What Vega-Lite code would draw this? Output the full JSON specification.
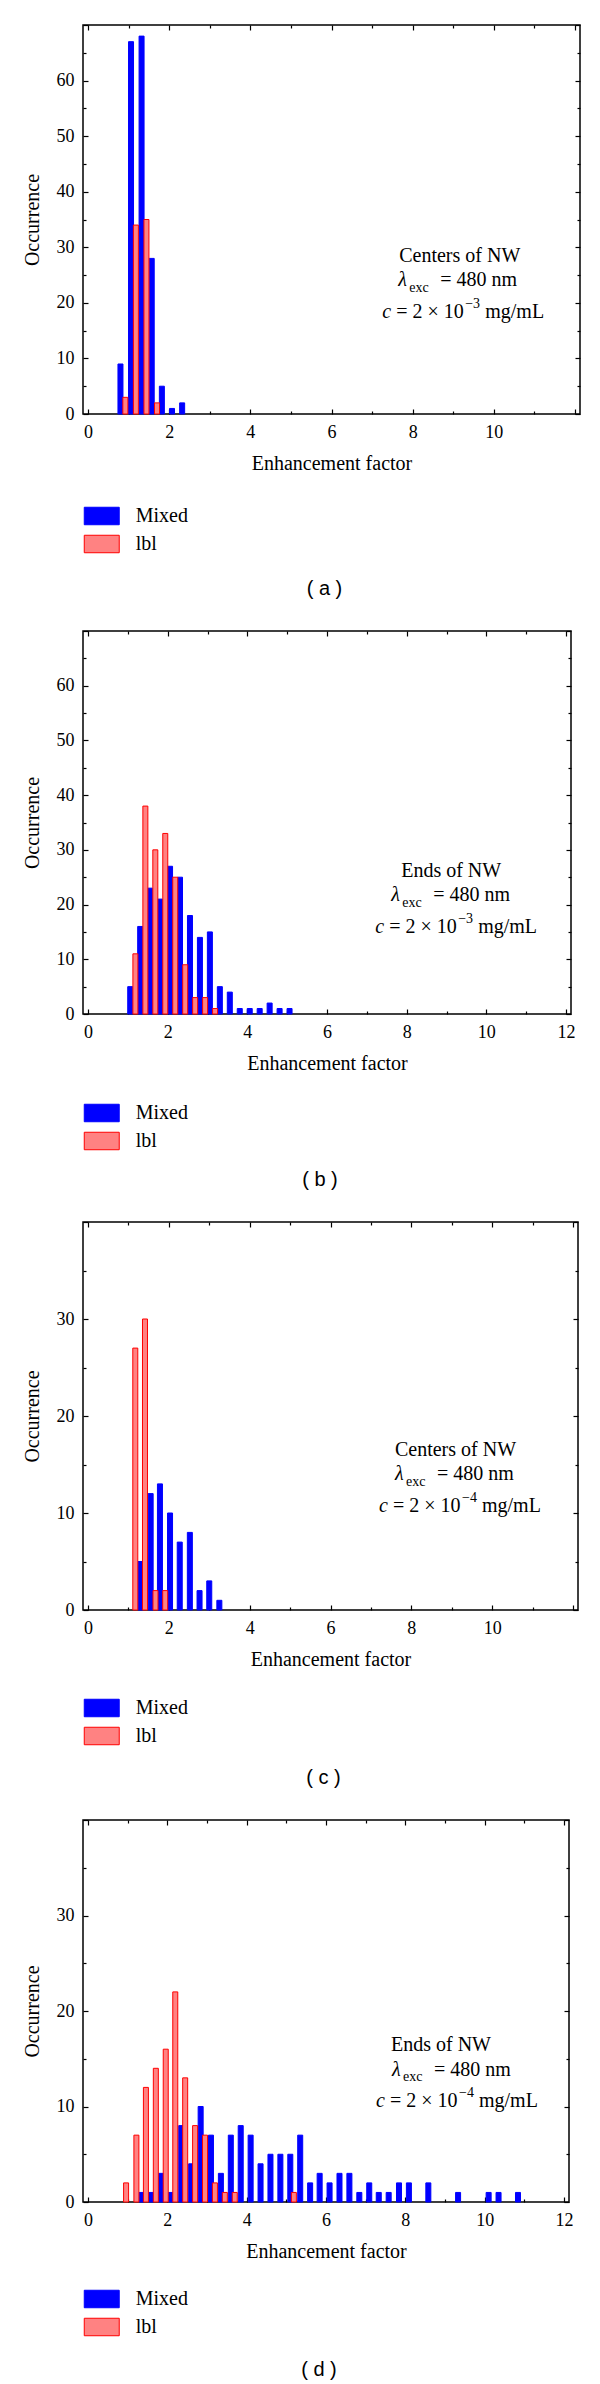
{
  "$schema": "https://vega.github.io/schema/vega-lite/v6.json",
  "padding": {"left": 21, "top": 15, "right": 5, "bottom": 0},
  "spacing": 21,
  "resolve": {"scale": {"fill": "independent", "stroke": "independent"}, "legend": {"fill": "independent", "stroke": "independent"}},
  "config": {
    "font": "Liberation Serif",
    "view": {"stroke": "black", "strokeWidth": 1.5},
    "axis": {"labelFont": "Liberation Serif", "labelFontSize": 18, "labelColor": "black", "titleFont": "Liberation Serif", "titleFontSize": 20, "titleFontWeight": "normal", "titleColor": "black", "domain": false, "grid": false, "tickColor": "black", "tickWidth": 1.2, "labelOverlap": false, "labelFlush": false},
    "legend": {"labelFont": "Liberation Serif", "labelFontSize": 20, "labelColor": "black", "padding": 0},
    "title": {"font": "Liberation Sans", "fontSize": 20, "fontWeight": "normal", "color": "black"},
    "text": {"font": "Liberation Serif", "fontSize": 20, "fill": "black", "fontWeight": "normal", "align": "left", "baseline": "alphabetic"}
  },
  "vconcat": [
    {
      "width": 497, "height": 389,
      "title": {"text": "( a )", "orient": "bottom", "anchor": "middle", "offset": 24, "dx": -7},
      "resolve": {"scale": {"x": "shared", "y": "shared"}, "axis": {"x": "independent", "y": "independent"}},
      "layer": [
        {
          "data": {"values": [
            {"series": "Mixed", "factor": 0.80, "count": 9},
            {"series": "Mixed", "factor": 1.06, "count": 67},
            {"series": "Mixed", "factor": 1.32, "count": 68},
            {"series": "Mixed", "factor": 1.57, "count": 28},
            {"series": "Mixed", "factor": 1.82, "count": 5},
            {"series": "Mixed", "factor": 2.07, "count": 1},
            {"series": "Mixed", "factor": 2.32, "count": 2},
            {"series": "lbl", "factor": 0.92, "count": 3},
            {"series": "lbl", "factor": 1.18, "count": 34},
            {"series": "lbl", "factor": 1.44, "count": 35},
            {"series": "lbl", "factor": 1.70, "count": 2}
          ]},
          "mark": {"type": "bar", "size": 5, "strokeWidth": 1},
          "encoding": {
            "x": {"field": "factor", "type": "quantitative", "scale": {"domain": [0, 12], "nice": false, "zero": false},
              "axis": {"orient": "bottom", "values": [0,1,2,3,4,5,6,7,8,9,10,11,12], "labelExpr": "datum.value % 2 === 0 && datum.value < 12 ? datum.label : ''", "tickSize": {"condition": {"test": "datum.value % 2 === 0", "value": -5}, "value": -3}, "labelPadding": 14, "title": "Enhancement factor", "titlePadding": 10}},
            "y": {"field": "count", "type": "quantitative", "stack": null, "scale": {"domain": [0, 70], "nice": false},
              "axis": {"orient": "left", "values": [0,5,10,15,20,25,30,35,40,45,50,55,60,65,70], "labelExpr": "datum.value % 10 === 0 && datum.value < 70 ? datum.label : ''", "tickSize": {"condition": {"test": "datum.value % 10 === 0", "value": -5}, "value": -3}, "labelPadding": 14, "title": "Occurrence", "titlePadding": 14}},
            "fill": {"field": "series", "type": "nominal", "scale": {"domain": ["Mixed", "lbl"], "range": ["#0000ff", "#ff8282"]},
              "legend": {"orient": "none", "legendX": 8.75, "legendY": 481, "title": null, "direction": "vertical", "symbolType": "M-2,-1H2V1H-2Z", "symbolSize": 306, "symbolStrokeWidth": 1, "rowPadding": 6, "labelOffset": 24}},
            "stroke": {"field": "series", "type": "nominal", "scale": {"domain": ["Mixed", "lbl"], "range": ["#0000ff", "#ff0000"]},
              "legend": {"orient": "none", "legendX": 8.75, "legendY": 481, "title": null, "direction": "vertical", "symbolType": "M-2,-1H2V1H-2Z", "symbolSize": 306, "symbolStrokeWidth": 1, "rowPadding": 6, "labelOffset": 24}}
          }
        },
        {
          "data": {"values": [{}]},
          "mark": {"type": "text", "text": "Centers of NW", "align": "center", "dx": 77.5, "dy": 0},
          "encoding": {
            "x": {"datum": 7.25, "type": "quantitative", "axis": {"orient": "top", "values": [0,1,2,3,4,5,6,7,8,9,10,11,12], "labels": false, "tickSize": {"condition": {"test": "datum.value % 2 === 0", "value": -5}, "value": -3}, "title": null}},
            "y": {"datum": 27.4, "type": "quantitative", "axis": {"orient": "right", "values": [0,5,10,15,20,25,30,35,40,45,50,55,60,65,70], "labels": false, "tickSize": {"condition": {"test": "datum.value % 10 === 0", "value": -5}, "value": -3}, "title": null}}
          }
        },
        {"data": {"values": [{}]}, "mark": {"type": "text", "text": "λ", "fontStyle": "italic", "dx": 16, "dy": 24.5}, "encoding": {"x": {"datum": 7.25, "type": "quantitative", "axis": null}, "y": {"datum": 27.4, "type": "quantitative", "axis": null}}},
        {"data": {"values": [{}]}, "mark": {"type": "text", "text": "exc", "fontSize": 14, "dx": 27, "dy": 30}, "encoding": {"x": {"datum": 7.25, "type": "quantitative", "axis": null}, "y": {"datum": 27.4, "type": "quantitative", "axis": null}}},
        {"data": {"values": [{}]}, "mark": {"type": "text", "text": "= 480 nm", "dx": 58, "dy": 24.5}, "encoding": {"x": {"datum": 7.25, "type": "quantitative", "axis": null}, "y": {"datum": 27.4, "type": "quantitative", "axis": null}}},
        {"data": {"values": [{}]}, "mark": {"type": "text", "text": "c", "fontStyle": "italic", "dx": 0, "dy": 56}, "encoding": {"x": {"datum": 7.25, "type": "quantitative", "axis": null}, "y": {"datum": 27.4, "type": "quantitative", "axis": null}}},
        {"data": {"values": [{}]}, "mark": {"type": "text", "text": "= 2 × 10", "dx": 14, "dy": 56}, "encoding": {"x": {"datum": 7.25, "type": "quantitative", "axis": null}, "y": {"datum": 27.4, "type": "quantitative", "axis": null}}},
        {"data": {"values": [{}]}, "mark": {"type": "text", "text": "−3", "fontSize": 14, "dx": 83, "dy": 46}, "encoding": {"x": {"datum": 7.25, "type": "quantitative", "axis": null}, "y": {"datum": 27.4, "type": "quantitative", "axis": null}}},
        {"data": {"values": [{}]}, "mark": {"type": "text", "text": "mg/mL", "dx": 103, "dy": 56}, "encoding": {"x": {"datum": 7.25, "type": "quantitative", "axis": null}, "y": {"datum": 27.4, "type": "quantitative", "axis": null}}}
      ]
    },
    {
      "width": 488, "height": 383,
      "title": {"text": "( b )", "orient": "bottom", "anchor": "middle", "offset": 18, "dx": -7},
      "resolve": {"scale": {"x": "shared", "y": "shared"}, "axis": {"x": "independent", "y": "independent"}},
      "layer": [
        {
          "data": {"values": [
            {"series": "Mixed", "factor": 1.06, "count": 5},
            {"series": "Mixed", "factor": 1.31, "count": 16},
            {"series": "Mixed", "factor": 1.56, "count": 23},
            {"series": "Mixed", "factor": 1.81, "count": 21},
            {"series": "Mixed", "factor": 2.06, "count": 27},
            {"series": "Mixed", "factor": 2.31, "count": 25},
            {"series": "Mixed", "factor": 2.56, "count": 18},
            {"series": "Mixed", "factor": 2.81, "count": 14},
            {"series": "Mixed", "factor": 3.06, "count": 15},
            {"series": "Mixed", "factor": 3.31, "count": 5},
            {"series": "Mixed", "factor": 3.56, "count": 4},
            {"series": "Mixed", "factor": 3.81, "count": 1},
            {"series": "Mixed", "factor": 4.06, "count": 1},
            {"series": "Mixed", "factor": 4.31, "count": 1},
            {"series": "Mixed", "factor": 4.56, "count": 2},
            {"series": "Mixed", "factor": 4.81, "count": 1},
            {"series": "Mixed", "factor": 5.06, "count": 1},
            {"series": "lbl", "factor": 1.19, "count": 11},
            {"series": "lbl", "factor": 1.44, "count": 38},
            {"series": "lbl", "factor": 1.69, "count": 30},
            {"series": "lbl", "factor": 1.94, "count": 33},
            {"series": "lbl", "factor": 2.19, "count": 25},
            {"series": "lbl", "factor": 2.44, "count": 9},
            {"series": "lbl", "factor": 2.69, "count": 3},
            {"series": "lbl", "factor": 2.94, "count": 3},
            {"series": "lbl", "factor": 3.19, "count": 1}
          ]},
          "mark": {"type": "bar", "size": 5, "strokeWidth": 1},
          "encoding": {
            "x": {"field": "factor", "type": "quantitative", "scale": {"domain": [0, 12], "nice": false, "zero": false},
              "axis": {"orient": "bottom", "values": [0,1,2,3,4,5,6,7,8,9,10,11,12], "labelExpr": "datum.value % 2 === 0 ? datum.label : ''", "tickSize": {"condition": {"test": "datum.value % 2 === 0", "value": -5}, "value": -3}, "labelPadding": 14, "title": "Enhancement factor", "titlePadding": 10}},
            "y": {"field": "count", "type": "quantitative", "stack": null, "scale": {"domain": [0, 70], "nice": false},
              "axis": {"orient": "left", "values": [0,5,10,15,20,25,30,35,40,45,50,55,60,65,70], "labelExpr": "datum.value % 10 === 0 && datum.value < 70 ? datum.label : ''", "tickSize": {"condition": {"test": "datum.value % 10 === 0", "value": -5}, "value": -3}, "labelPadding": 14, "title": "Occurrence", "titlePadding": 14}},
            "fill": {"field": "series", "type": "nominal", "scale": {"domain": ["Mixed", "lbl"], "range": ["#0000ff", "#ff8282"]},
              "legend": {"orient": "none", "legendX": 8.75, "legendY": 472, "title": null, "direction": "vertical", "symbolType": "M-2,-1H2V1H-2Z", "symbolSize": 306, "symbolStrokeWidth": 1, "rowPadding": 6, "labelOffset": 24}},
            "stroke": {"field": "series", "type": "nominal", "scale": {"domain": ["Mixed", "lbl"], "range": ["#0000ff", "#ff0000"]},
              "legend": {"orient": "none", "legendX": 8.75, "legendY": 472, "title": null, "direction": "vertical", "symbolType": "M-2,-1H2V1H-2Z", "symbolSize": 306, "symbolStrokeWidth": 1, "rowPadding": 6, "labelOffset": 24}}
          }
        },
        {
          "data": {"values": [{}]},
          "mark": {"type": "text", "text": "Ends of NW", "align": "center", "dx": 76, "dy": 0},
          "encoding": {
            "x": {"datum": 7.21, "type": "quantitative", "axis": {"orient": "top", "values": [0,1,2,3,4,5,6,7,8,9,10,11,12], "labels": false, "tickSize": {"condition": {"test": "datum.value % 2 === 0", "value": -5}, "value": -3}, "title": null}},
            "y": {"datum": 25.1, "type": "quantitative", "axis": {"orient": "right", "values": [0,5,10,15,20,25,30,35,40,45,50,55,60,65,70], "labels": false, "tickSize": {"condition": {"test": "datum.value % 10 === 0", "value": -5}, "value": -3}, "title": null}}
          }
        },
        {"data": {"values": [{}]}, "mark": {"type": "text", "text": "λ", "fontStyle": "italic", "dx": 16, "dy": 24.5}, "encoding": {"x": {"datum": 7.21, "type": "quantitative", "axis": null}, "y": {"datum": 25.1, "type": "quantitative", "axis": null}}},
        {"data": {"values": [{}]}, "mark": {"type": "text", "text": "exc", "fontSize": 14, "dx": 27, "dy": 30}, "encoding": {"x": {"datum": 7.21, "type": "quantitative", "axis": null}, "y": {"datum": 25.1, "type": "quantitative", "axis": null}}},
        {"data": {"values": [{}]}, "mark": {"type": "text", "text": "= 480 nm", "dx": 58, "dy": 24.5}, "encoding": {"x": {"datum": 7.21, "type": "quantitative", "axis": null}, "y": {"datum": 25.1, "type": "quantitative", "axis": null}}},
        {"data": {"values": [{}]}, "mark": {"type": "text", "text": "c", "fontStyle": "italic", "dx": 0, "dy": 56}, "encoding": {"x": {"datum": 7.21, "type": "quantitative", "axis": null}, "y": {"datum": 25.1, "type": "quantitative", "axis": null}}},
        {"data": {"values": [{}]}, "mark": {"type": "text", "text": "= 2 × 10", "dx": 14, "dy": 56}, "encoding": {"x": {"datum": 7.21, "type": "quantitative", "axis": null}, "y": {"datum": 25.1, "type": "quantitative", "axis": null}}},
        {"data": {"values": [{}]}, "mark": {"type": "text", "text": "−3", "fontSize": 14, "dx": 83, "dy": 46}, "encoding": {"x": {"datum": 7.21, "type": "quantitative", "axis": null}, "y": {"datum": 25.1, "type": "quantitative", "axis": null}}},
        {"data": {"values": [{}]}, "mark": {"type": "text", "text": "mg/mL", "dx": 103, "dy": 56}, "encoding": {"x": {"datum": 7.21, "type": "quantitative", "axis": null}, "y": {"datum": 25.1, "type": "quantitative", "axis": null}}}
      ]
    },
    {
      "width": 495, "height": 388,
      "title": {"text": "( c )", "orient": "bottom", "anchor": "middle", "offset": 21, "dx": -7},
      "resolve": {"scale": {"x": "shared", "y": "shared"}, "axis": {"x": "independent", "y": "independent"}},
      "layer": [
        {
          "data": {"values": [
            {"series": "Mixed", "factor": 1.30, "count": 5},
            {"series": "Mixed", "factor": 1.55, "count": 12},
            {"series": "Mixed", "factor": 1.78, "count": 13},
            {"series": "Mixed", "factor": 2.03, "count": 10},
            {"series": "Mixed", "factor": 2.27, "count": 7},
            {"series": "Mixed", "factor": 2.52, "count": 8},
            {"series": "Mixed", "factor": 2.76, "count": 2},
            {"series": "Mixed", "factor": 3.00, "count": 3},
            {"series": "Mixed", "factor": 3.25, "count": 1},
            {"series": "lbl", "factor": 1.17, "count": 27},
            {"series": "lbl", "factor": 1.41, "count": 30},
            {"series": "lbl", "factor": 1.67, "count": 2},
            {"series": "lbl", "factor": 1.91, "count": 2}
          ]},
          "mark": {"type": "bar", "size": 5, "strokeWidth": 1},
          "encoding": {
            "x": {"field": "factor", "type": "quantitative", "scale": {"domain": [0, 12], "nice": false, "zero": false},
              "axis": {"orient": "bottom", "values": [0,1,2,3,4,5,6,7,8,9,10,11,12], "labelExpr": "datum.value % 2 === 0 && datum.value < 12 ? datum.label : ''", "tickSize": {"condition": {"test": "datum.value % 2 === 0", "value": -5}, "value": -3}, "labelPadding": 14, "title": "Enhancement factor", "titlePadding": 10}},
            "y": {"field": "count", "type": "quantitative", "stack": null, "scale": {"domain": [0, 40], "nice": false},
              "axis": {"orient": "left", "values": [0,5,10,15,20,25,30,35,40], "labelExpr": "datum.value % 10 === 0 && datum.value < 40 ? datum.label : ''", "tickSize": {"condition": {"test": "datum.value % 10 === 0", "value": -5}, "value": -3}, "labelPadding": 14, "title": "Occurrence", "titlePadding": 14}},
            "fill": {"field": "series", "type": "nominal", "scale": {"domain": ["Mixed", "lbl"], "range": ["#0000ff", "#ff8282"]},
              "legend": {"orient": "none", "legendX": 8.75, "legendY": 476, "title": null, "direction": "vertical", "symbolType": "M-2,-1H2V1H-2Z", "symbolSize": 306, "symbolStrokeWidth": 1, "rowPadding": 6, "labelOffset": 24}},
            "stroke": {"field": "series", "type": "nominal", "scale": {"domain": ["Mixed", "lbl"], "range": ["#0000ff", "#ff0000"]},
              "legend": {"orient": "none", "legendX": 8.75, "legendY": 476, "title": null, "direction": "vertical", "symbolType": "M-2,-1H2V1H-2Z", "symbolSize": 306, "symbolStrokeWidth": 1, "rowPadding": 6, "labelOffset": 24}}
          }
        },
        {
          "data": {"values": [{}]},
          "mark": {"type": "text", "text": "Centers of NW", "align": "center", "dx": 76.5, "dy": 0},
          "encoding": {
            "x": {"datum": 7.2, "type": "quantitative", "axis": {"orient": "top", "values": [0,1,2,3,4,5,6,7,8,9,10,11,12], "labels": false, "tickSize": {"condition": {"test": "datum.value % 2 === 0", "value": -5}, "value": -3}, "title": null}},
            "y": {"datum": 15.9, "type": "quantitative", "axis": {"orient": "right", "values": [0,5,10,15,20,25,30,35,40], "labels": false, "tickSize": {"condition": {"test": "datum.value % 10 === 0", "value": -5}, "value": -3}, "title": null}}
          }
        },
        {"data": {"values": [{}]}, "mark": {"type": "text", "text": "λ", "fontStyle": "italic", "dx": 16, "dy": 24.5}, "encoding": {"x": {"datum": 7.2, "type": "quantitative", "axis": null}, "y": {"datum": 15.9, "type": "quantitative", "axis": null}}},
        {"data": {"values": [{}]}, "mark": {"type": "text", "text": "exc", "fontSize": 14, "dx": 27, "dy": 30}, "encoding": {"x": {"datum": 7.2, "type": "quantitative", "axis": null}, "y": {"datum": 15.9, "type": "quantitative", "axis": null}}},
        {"data": {"values": [{}]}, "mark": {"type": "text", "text": "= 480 nm", "dx": 58, "dy": 24.5}, "encoding": {"x": {"datum": 7.2, "type": "quantitative", "axis": null}, "y": {"datum": 15.9, "type": "quantitative", "axis": null}}},
        {"data": {"values": [{}]}, "mark": {"type": "text", "text": "c", "fontStyle": "italic", "dx": 0, "dy": 56}, "encoding": {"x": {"datum": 7.2, "type": "quantitative", "axis": null}, "y": {"datum": 15.9, "type": "quantitative", "axis": null}}},
        {"data": {"values": [{}]}, "mark": {"type": "text", "text": "= 2 × 10", "dx": 14, "dy": 56}, "encoding": {"x": {"datum": 7.2, "type": "quantitative", "axis": null}, "y": {"datum": 15.9, "type": "quantitative", "axis": null}}},
        {"data": {"values": [{}]}, "mark": {"type": "text", "text": "−4", "fontSize": 14, "dx": 83, "dy": 46}, "encoding": {"x": {"datum": 7.2, "type": "quantitative", "axis": null}, "y": {"datum": 15.9, "type": "quantitative", "axis": null}}},
        {"data": {"values": [{}]}, "mark": {"type": "text", "text": "mg/mL", "dx": 103, "dy": 56}, "encoding": {"x": {"datum": 7.2, "type": "quantitative", "axis": null}, "y": {"datum": 15.9, "type": "quantitative", "axis": null}}}
      ]
    },
    {
      "width": 486, "height": 382,
      "title": {"text": "( d )", "orient": "bottom", "anchor": "middle", "offset": 22, "dx": -7},
      "resolve": {"scale": {"x": "shared", "y": "shared"}, "axis": {"x": "independent", "y": "independent"}},
      "layer": [
        {
          "data": {"values": [
            {"series": "Mixed", "factor": 1.35, "count": 1},
            {"series": "Mixed", "factor": 1.59, "count": 1},
            {"series": "Mixed", "factor": 1.84, "count": 3},
            {"series": "Mixed", "factor": 2.09, "count": 1},
            {"series": "Mixed", "factor": 2.35, "count": 8},
            {"series": "Mixed", "factor": 2.60, "count": 4},
            {"series": "Mixed", "factor": 2.84, "count": 10},
            {"series": "Mixed", "factor": 3.10, "count": 7},
            {"series": "Mixed", "factor": 3.35, "count": 3},
            {"series": "Mixed", "factor": 3.60, "count": 7},
            {"series": "Mixed", "factor": 3.85, "count": 8},
            {"series": "Mixed", "factor": 4.10, "count": 7},
            {"series": "Mixed", "factor": 4.35, "count": 4},
            {"series": "Mixed", "factor": 4.60, "count": 5},
            {"series": "Mixed", "factor": 4.85, "count": 5},
            {"series": "Mixed", "factor": 5.10, "count": 5},
            {"series": "Mixed", "factor": 5.35, "count": 7},
            {"series": "Mixed", "factor": 5.60, "count": 2},
            {"series": "Mixed", "factor": 5.84, "count": 3},
            {"series": "Mixed", "factor": 6.09, "count": 2},
            {"series": "Mixed", "factor": 6.34, "count": 3},
            {"series": "Mixed", "factor": 6.59, "count": 3},
            {"series": "Mixed", "factor": 6.84, "count": 1},
            {"series": "Mixed", "factor": 7.09, "count": 2},
            {"series": "Mixed", "factor": 7.33, "count": 1},
            {"series": "Mixed", "factor": 7.58, "count": 1},
            {"series": "Mixed", "factor": 7.84, "count": 2},
            {"series": "Mixed", "factor": 8.09, "count": 2},
            {"series": "Mixed", "factor": 8.58, "count": 2},
            {"series": "Mixed", "factor": 9.33, "count": 1},
            {"series": "Mixed", "factor": 10.10, "count": 1},
            {"series": "Mixed", "factor": 10.35, "count": 1},
            {"series": "Mixed", "factor": 10.84, "count": 1},
            {"series": "lbl", "factor": 0.96, "count": 2},
            {"series": "lbl", "factor": 1.22, "count": 7},
            {"series": "lbl", "factor": 1.46, "count": 12},
            {"series": "lbl", "factor": 1.71, "count": 14},
            {"series": "lbl", "factor": 1.96, "count": 16},
            {"series": "lbl", "factor": 2.20, "count": 22},
            {"series": "lbl", "factor": 2.45, "count": 13},
            {"series": "lbl", "factor": 2.70, "count": 8},
            {"series": "lbl", "factor": 2.95, "count": 7},
            {"series": "lbl", "factor": 3.20, "count": 2},
            {"series": "lbl", "factor": 3.45, "count": 1},
            {"series": "lbl", "factor": 3.70, "count": 1},
            {"series": "lbl", "factor": 5.19, "count": 1}
          ]},
          "mark": {"type": "bar", "size": 5, "strokeWidth": 1},
          "encoding": {
            "x": {"field": "factor", "type": "quantitative", "scale": {"domain": [0, 12], "nice": false, "zero": false},
              "axis": {"orient": "bottom", "values": [0,1,2,3,4,5,6,7,8,9,10,11,12], "labelExpr": "datum.value % 2 === 0 ? datum.label : ''", "tickSize": {"condition": {"test": "datum.value % 2 === 0", "value": -5}, "value": -3}, "labelPadding": 14, "title": "Enhancement factor", "titlePadding": 10}},
            "y": {"field": "count", "type": "quantitative", "stack": null, "scale": {"domain": [0, 40], "nice": false},
              "axis": {"orient": "left", "values": [0,5,10,15,20,25,30,35,40], "labelExpr": "datum.value % 10 === 0 && datum.value < 40 ? datum.label : ''", "tickSize": {"condition": {"test": "datum.value % 10 === 0", "value": -5}, "value": -3}, "labelPadding": 14, "title": "Occurrence", "titlePadding": 14}},
            "fill": {"field": "series", "type": "nominal", "scale": {"domain": ["Mixed", "lbl"], "range": ["#0000ff", "#ff8282"]},
              "legend": {"orient": "none", "legendX": 8.75, "legendY": 469, "title": null, "direction": "vertical", "symbolType": "M-2,-1H2V1H-2Z", "symbolSize": 306, "symbolStrokeWidth": 1, "rowPadding": 6, "labelOffset": 24}},
            "stroke": {"field": "series", "type": "nominal", "scale": {"domain": ["Mixed", "lbl"], "range": ["#0000ff", "#ff0000"]},
              "legend": {"orient": "none", "legendX": 8.75, "legendY": 469, "title": null, "direction": "vertical", "symbolType": "M-2,-1H2V1H-2Z", "symbolSize": 306, "symbolStrokeWidth": 1, "rowPadding": 6, "labelOffset": 24}}
          }
        },
        {
          "data": {"values": [{}]},
          "mark": {"type": "text", "text": "Ends of NW", "align": "center", "dx": 65, "dy": 0},
          "encoding": {
            "x": {"datum": 7.26, "type": "quantitative", "axis": {"orient": "top", "values": [0,1,2,3,4,5,6,7,8,9,10,11,12], "labels": false, "tickSize": {"condition": {"test": "datum.value % 2 === 0", "value": -5}, "value": -3}, "title": null}},
            "y": {"datum": 15.8, "type": "quantitative", "axis": {"orient": "right", "values": [0,5,10,15,20,25,30,35,40], "labels": false, "tickSize": {"condition": {"test": "datum.value % 10 === 0", "value": -5}, "value": -3}, "title": null}}
          }
        },
        {"data": {"values": [{}]}, "mark": {"type": "text", "text": "λ", "fontStyle": "italic", "dx": 16, "dy": 24.5}, "encoding": {"x": {"datum": 7.26, "type": "quantitative", "axis": null}, "y": {"datum": 15.8, "type": "quantitative", "axis": null}}},
        {"data": {"values": [{}]}, "mark": {"type": "text", "text": "exc", "fontSize": 14, "dx": 27, "dy": 30}, "encoding": {"x": {"datum": 7.26, "type": "quantitative", "axis": null}, "y": {"datum": 15.8, "type": "quantitative", "axis": null}}},
        {"data": {"values": [{}]}, "mark": {"type": "text", "text": "= 480 nm", "dx": 58, "dy": 24.5}, "encoding": {"x": {"datum": 7.26, "type": "quantitative", "axis": null}, "y": {"datum": 15.8, "type": "quantitative", "axis": null}}},
        {"data": {"values": [{}]}, "mark": {"type": "text", "text": "c", "fontStyle": "italic", "dx": 0, "dy": 56}, "encoding": {"x": {"datum": 7.26, "type": "quantitative", "axis": null}, "y": {"datum": 15.8, "type": "quantitative", "axis": null}}},
        {"data": {"values": [{}]}, "mark": {"type": "text", "text": "= 2 × 10", "dx": 14, "dy": 56}, "encoding": {"x": {"datum": 7.26, "type": "quantitative", "axis": null}, "y": {"datum": 15.8, "type": "quantitative", "axis": null}}},
        {"data": {"values": [{}]}, "mark": {"type": "text", "text": "−4", "fontSize": 14, "dx": 83, "dy": 46}, "encoding": {"x": {"datum": 7.26, "type": "quantitative", "axis": null}, "y": {"datum": 15.8, "type": "quantitative", "axis": null}}},
        {"data": {"values": [{}]}, "mark": {"type": "text", "text": "mg/mL", "dx": 103, "dy": 56}, "encoding": {"x": {"datum": 7.26, "type": "quantitative", "axis": null}, "y": {"datum": 15.8, "type": "quantitative", "axis": null}}}
      ]
    }
  ]
}
